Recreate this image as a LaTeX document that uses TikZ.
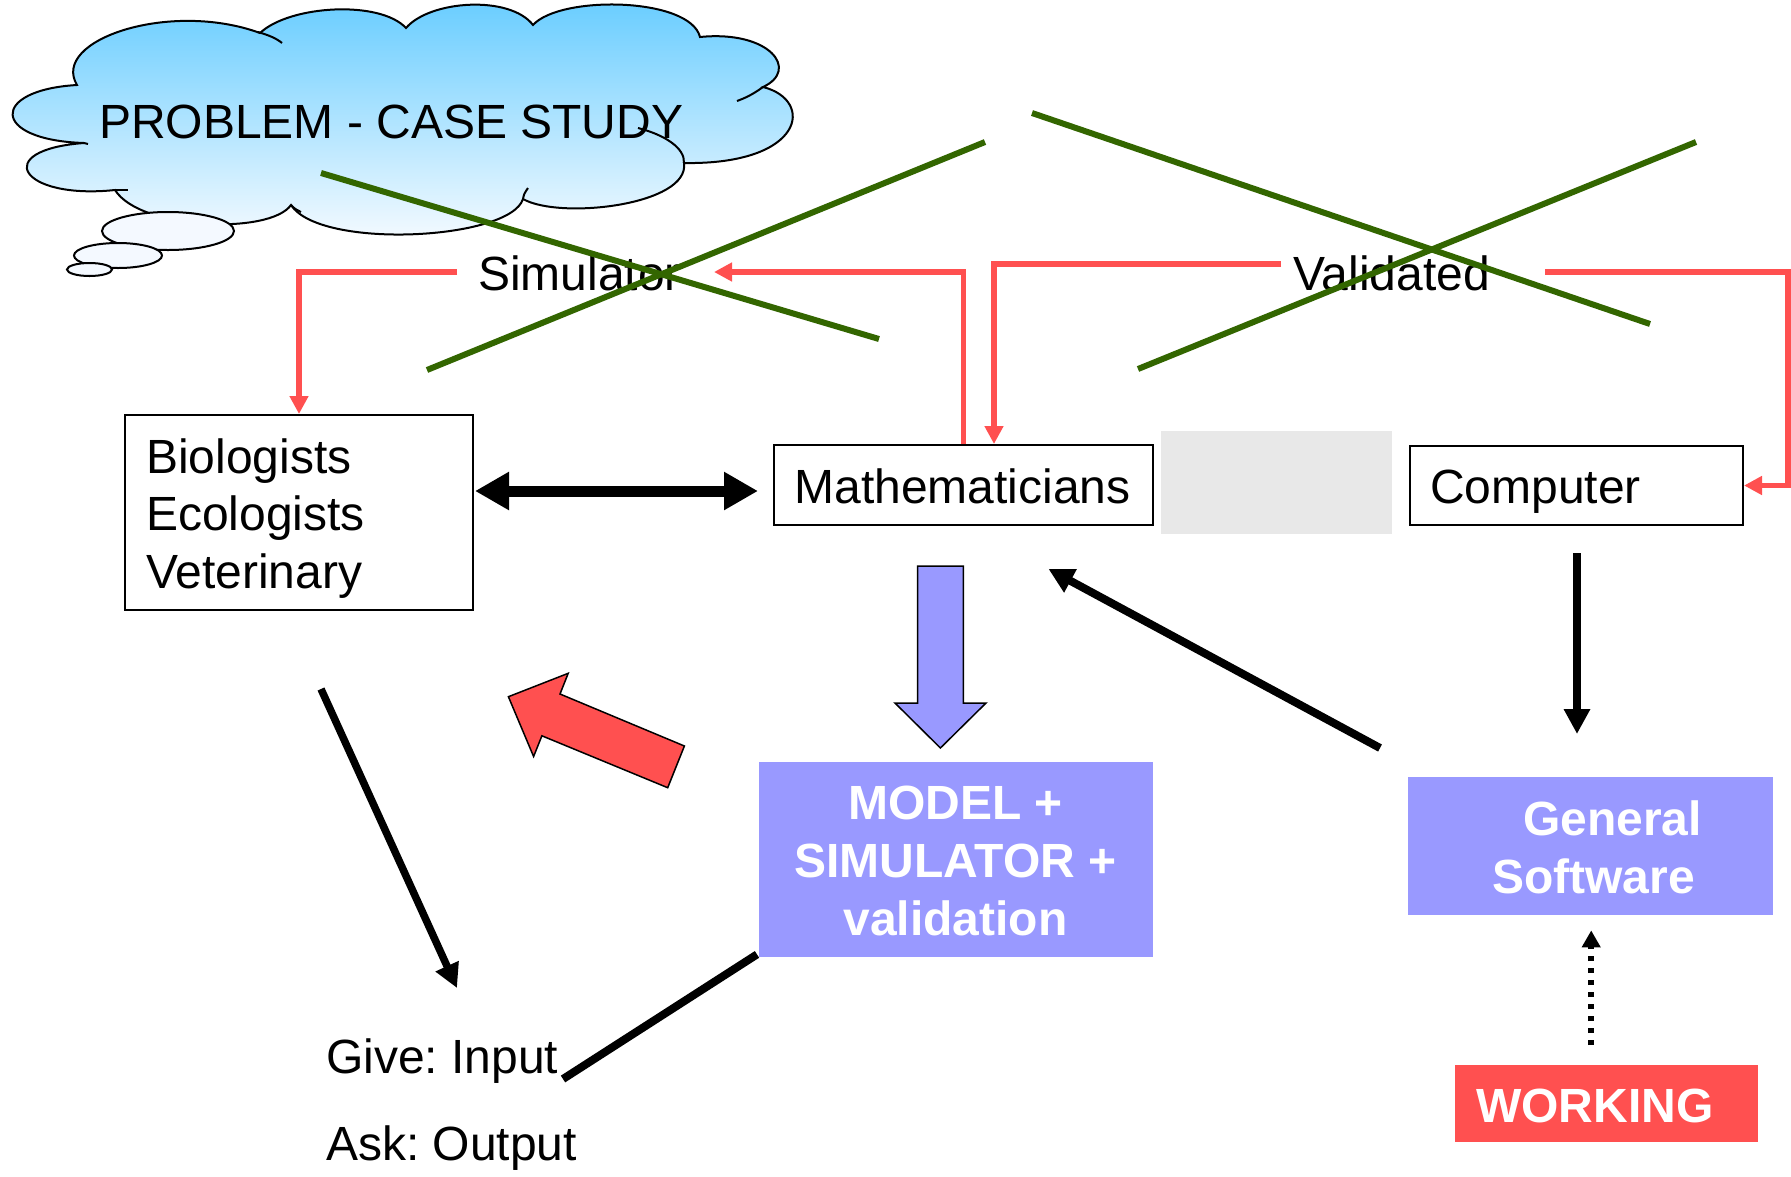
\documentclass[tikz,border=0pt]{standalone}
\usepackage{fontspec}
\setmainfont{Liberation Sans}
\usetikzlibrary{arrows.meta,calc}
\definecolor{redc}{RGB}{255,80,80}
\definecolor{greenc}{RGB}{51,102,0}
\definecolor{lav}{RGB}{153,153,255}
\definecolor{grayc}{RGB}{232,232,232}
\definecolor{cloudtop}{RGB}{102,204,255}
\definecolor{cloudbot}{RGB}{250,252,255}
\definecolor{bubble}{RGB}{244,249,255}
\frenchspacing
\tikzset{
  txt/.style={font=\fontsize{48}{57.5}\selectfont, inner sep=0pt},
  btxt/.style={font=\fontsize{48}{58}\selectfont\bfseries, inner sep=0pt, text=white},
  boxd/.style={draw=black, line width=2pt, fill=white, inner sep=0pt, anchor=north west},
  fbox/.style={inner sep=0pt, anchor=north west},
  redline/.style={draw=redc, line width=5.5pt},
  redarr/.style={redline, -{Triangle[length=18pt,width=18pt]}},
  greenline/.style={draw=greenc, line width=6pt},
  blackarr/.style={draw=black, line width=8pt, -{Triangle[length=25pt,width=25pt]}},
  cloudline/.style={draw=black, line width=2pt},
}
\begin{document}
\begin{tikzpicture}[x=1pt,y=-1pt]
\useasboundingbox (0,0) rectangle (1791,1176);
\fill[white] (0,0) rectangle (1791,1176);

% cloud
\begin{scope}
\clip (10,-5) rectangle (800,300);
\path[cloudline, top color=cloudtop, bottom color=cloudbot]
 (77,85) .. controls (50,40) and (170,0) .. (260,33)
 .. controls (290,5) and (380,0) .. (406,28)
 .. controls (430,0) and (510,-5) .. (533,25)
 .. controls (560,-5) and (690,-3) .. (700,37)
 .. controls (770,30) and (800,70) .. (763,87)
 .. controls (815,100) and (805,165) .. (684,163)
 .. controls (690,205) and (560,220) .. (523,199)
 .. controls (510,240) and (320,250) .. (291,205)
 .. controls (270,235) and (140,230) .. (115,190)
 .. controls (20,200) and (-10,150) .. (84,143)
 .. controls (-10,140) and (-10,90) .. (77,85) -- cycle;
\draw[cloudline] (258,32) .. controls (268,35) and (276,38) .. (282,43);
\draw[cloudline] (763,87) .. controls (752,95) and (745,98) .. (737,101);
\draw[cloudline] (638,128) .. controls (665,135) and (685,148) .. (684,163);
\draw[cloudline] (523,199) .. controls (524,194) .. (528,188);
\draw[cloudline] (291,205) .. controls (295,209) .. (301,212);
\draw[cloudline] (115,190) .. controls (120,190) .. (128,190);
\draw[cloudline] (84,143) -- (88,144);
\end{scope}
\draw[cloudline, fill=bubble] (168,231) ellipse [x radius=66, y radius=19];
\draw[cloudline, fill=bubble] (118,255.5) ellipse [x radius=44, y radius=12.5];
\draw[cloudline, fill=bubble] (89.5,269.5) ellipse [x radius=22.5, y radius=6.5];
\node[txt, anchor=base west] (problem) at (99,138) {PROBLEM - CASE STUDY};

% boxes
\node[boxd, minimum width=348pt, minimum height=195pt] (bio) at (124,414) {};
\node[txt, anchor=base west] (biotext) at (146,473)
  {\begin{tabular}[t]{@{}l@{}}Biologists\\Ecologists\\Veterinary\end{tabular}};
\node[boxd, minimum width=379pt, minimum height=80pt] (math) at (773,444) {};
\node[txt, anchor=base] (mathtext) at (962.5,503) {Mathematicians};
\node[fbox, fill=grayc, minimum width=231pt, minimum height=103pt] (gray) at (1161,431) {};
\node[boxd, minimum width=333pt, minimum height=79pt] (comp) at (1409,445) {};
\node[txt, anchor=base west] (comptext) at (1430,503) {Computer};

\node[fbox, fill=lav, minimum width=394.5pt, minimum height=195pt] (model) at (758.5,762) {};
\node[btxt, anchor=base] (modeltext) at (955.5,819)
  {\begin{tabular}[t]{@{}c@{}}MODEL +\\SIMULATOR +\\validation\end{tabular}};
\node[fbox, fill=lav, minimum width=365pt, minimum height=138pt] (gen) at (1408,777) {};
\node[btxt, anchor=base west] (gentext) at (1492,835)
  {\begin{tabular}[t]{@{}l@{}}\hspace*{31pt}General\\Software\end{tabular}};
\node[fbox, fill=redc, minimum width=303pt, minimum height=77pt] (work) at (1455,1065) {};
\node[btxt, anchor=base west] (worktext) at (1476,1122) {WORKING};

\node[txt, anchor=base west] (give) at (326,1073) {Give: Input};
\node[txt, anchor=base west] (ask) at (326,1160) {Ask: Output};
\node[txt, anchor=base west] (sim) at (478,290) {Simulator};
\node[txt, anchor=base west] (val) at (1293,290) {Validated};

% red connectors
\coordinate (simL) at (457,272);
\coordinate (simR) at (714,272);
\coordinate (valL) at (1281,264);
\coordinate (valR) at (1545,272);
\coordinate (rbend) at (1788,272);
\draw[redarr] (simL) -| (bio.north);
\draw[redarr] (math.north) |- (simR);
\draw[redarr] (valL) -| ($(math.north)+(30.5,0)$);
\draw[redarr] (valR) -- (rbend) |- (comp.east);

% green crosses
\draw[greenline] (321,173) -- (879,339);
\draw[greenline] (427,370) -- (985,142);
\draw[greenline] (1032,113) -- (1650,324);
\draw[greenline] (1138,369) -- (1696,142);

% double arrow
\draw[draw=black, line width=11pt, {Triangle[length=34pt,width=36pt]}-{Triangle[length=34pt,width=36pt]}]
  ($(bio.east)+(1,-21.5)$) -- ($(math.west)+(-15,6)$);

% lavender block arrow
\draw[draw=black, line width=1.5pt, fill=lav]
  (917.5,566) -- (963.4,566) -- (963.4,703) -- (986,703) -- (940.4,748) -- (895,703) -- (917.5,703) -- cycle;
% red block arrow
\draw[draw=black, line width=1.5pt, fill=redc]
  (508.4,696.7) -- (568.2,673.3) -- (560,694) -- (684.4,746) -- (667.7,787.7) -- (541.9,735.8) -- (533.6,756.5) -- cycle;

% black arrows
\draw[blackarr] ($(comp.south)+(0.5,27)$) -- ($(comp.south)+(0.5,208)$);
\draw[blackarr] ($(gen.north west)+(-28,-29)$) -- ($(math.south)+(85,43)$);
\draw[draw=black, line width=7.5pt, -{Triangle[length=24pt,width=24pt]}] ($(bio.south)+(22,78)$) -- ($(give.base west)+(131,-85)$);
\draw[draw=black, line width=8pt] ($(model.south west)+(-1.5,-3)$) -- ($(give.base west)+(237,6)$);
\draw[draw=black, line width=5.5pt, dash pattern=on 5pt off 7pt, -{Triangle[length=17pt,width=18pt]}]
  ($(work.north)+(-15.5,-20)$) -- ($(gen.south)+(0.5,15)$);
\end{tikzpicture}
\end{document}
